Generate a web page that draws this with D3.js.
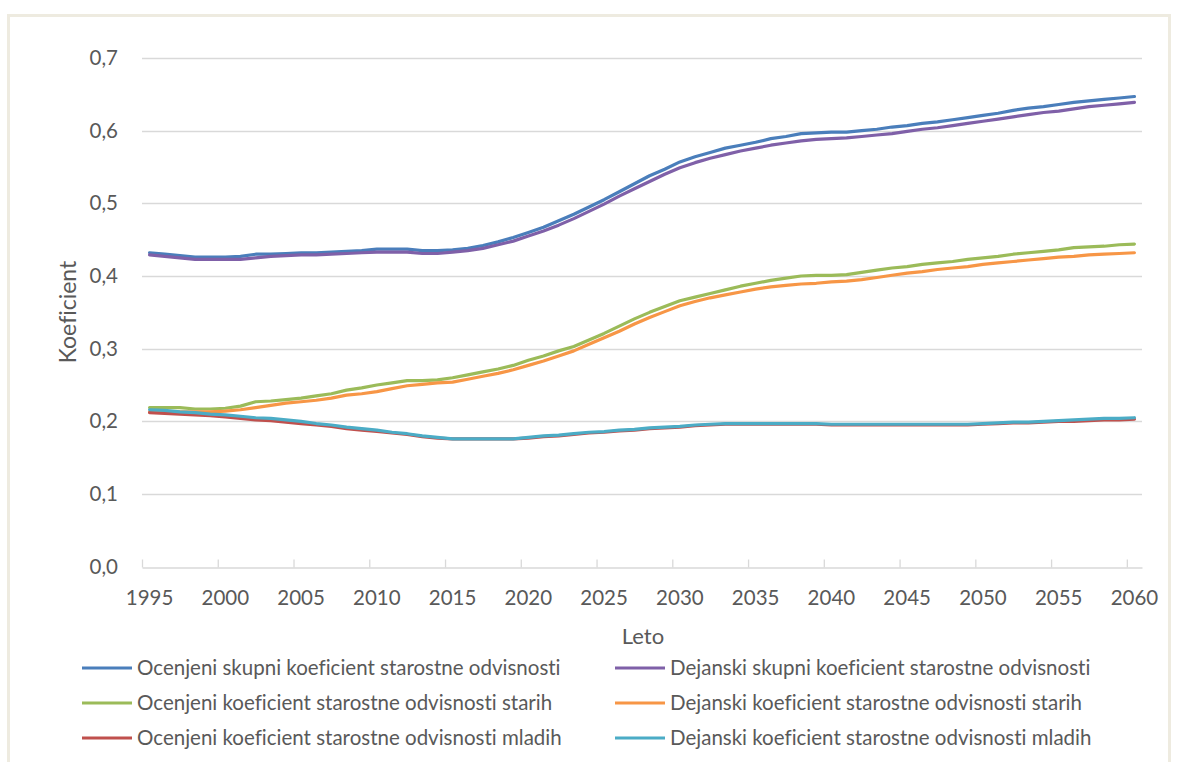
<!DOCTYPE html>
<html>
<head>
<meta charset="utf-8">
<script src="https://cdn.jsdelivr.net/npm/d3@7"></script>
<style>
  html, body { margin: 0; padding: 0; background: #fff; }
  svg { display: block; }
  text { font-family: Lato, "Open Sans", sans-serif; fill: #595959; font-variant-ligatures: none; }
</style>
</head>
<body>
<svg id="chart" width="1177" height="762"></svg>
<script>
// Years on the category axis
const years = d3.range(1995, 2061);

// Ocenjeni skupni koeficient starostne odvisnosti
const ocenjeniSkupni = [
  0.432, 0.430, 0.428, 0.426, 0.426, 0.426, 0.427, 0.430, 0.430, 0.431,
  0.432, 0.432, 0.433, 0.434, 0.435, 0.437, 0.437, 0.437, 0.435, 0.435,
  0.436, 0.438, 0.442, 0.447, 0.453, 0.460, 0.467, 0.476, 0.485, 0.495,
  0.505, 0.516, 0.527, 0.538, 0.547, 0.557, 0.564, 0.570, 0.576, 0.580,
  0.584, 0.589, 0.592, 0.596, 0.597, 0.598, 0.598, 0.600, 0.602, 0.605,
  0.607, 0.610, 0.612, 0.615, 0.618, 0.621, 0.624, 0.628, 0.631, 0.633,
  0.636, 0.639, 0.641, 0.643, 0.645, 0.647
];

// Dejanski skupni koeficient starostne odvisnosti
const dejanskiSkupni = [
  0.429, 0.427, 0.425, 0.423, 0.423, 0.423, 0.423, 0.425, 0.427, 0.428,
  0.429, 0.429, 0.430, 0.431, 0.432, 0.433, 0.433, 0.433, 0.431, 0.431,
  0.433, 0.435, 0.438, 0.443, 0.448, 0.455, 0.462, 0.470, 0.479, 0.489,
  0.499, 0.510, 0.520, 0.530, 0.540, 0.549, 0.556, 0.562, 0.567, 0.572,
  0.576, 0.580, 0.583, 0.586, 0.588, 0.589, 0.590, 0.592, 0.594, 0.596,
  0.599, 0.602, 0.604, 0.607, 0.610, 0.613, 0.616, 0.619, 0.622, 0.625,
  0.627, 0.630, 0.633, 0.635, 0.637, 0.639
];

// Ocenjeni koeficient starostne odvisnosti starih
const ocenjeniStarih = [
  0.219, 0.219, 0.219, 0.217, 0.217, 0.218, 0.221, 0.227, 0.228, 0.230,
  0.232, 0.235, 0.238, 0.243, 0.246, 0.250, 0.253, 0.256, 0.256, 0.257,
  0.260, 0.264, 0.268, 0.272, 0.277, 0.284, 0.290, 0.297, 0.303, 0.312,
  0.321, 0.331, 0.341, 0.350, 0.358, 0.366, 0.371, 0.376, 0.381, 0.386,
  0.390, 0.394, 0.397, 0.400, 0.401, 0.401, 0.402, 0.405, 0.408, 0.411,
  0.413, 0.416, 0.418, 0.420, 0.423, 0.425, 0.427, 0.430, 0.432, 0.434,
  0.436, 0.439, 0.440, 0.441, 0.443, 0.444
];

// Dejanski koeficient starostne odvisnosti starih
const dejanskiStarih = [
  0.213, 0.213, 0.213, 0.213, 0.213, 0.214, 0.216, 0.219, 0.222, 0.225,
  0.227, 0.229, 0.232, 0.236, 0.238, 0.241, 0.245, 0.249, 0.251, 0.253,
  0.254, 0.258, 0.262, 0.266, 0.271, 0.277, 0.283, 0.290, 0.297, 0.306,
  0.315, 0.324, 0.334, 0.343, 0.351, 0.359, 0.365, 0.370, 0.374, 0.378,
  0.382, 0.385, 0.387, 0.389, 0.390, 0.392, 0.393, 0.395, 0.398, 0.401,
  0.404, 0.406, 0.409, 0.411, 0.413, 0.416, 0.418, 0.420, 0.422, 0.424,
  0.426, 0.427, 0.429, 0.430, 0.431, 0.432
];

// Ocenjeni koeficient starostne odvisnosti mladih
const ocenjeniMladih = [
  0.212, 0.211, 0.210, 0.209, 0.208, 0.206, 0.204, 0.202, 0.201, 0.199,
  0.197, 0.195, 0.193, 0.190, 0.188, 0.186, 0.184, 0.182, 0.179, 0.177,
  0.176, 0.176, 0.176, 0.176, 0.176, 0.177, 0.179, 0.180, 0.182, 0.184,
  0.185, 0.187, 0.188, 0.190, 0.191, 0.192, 0.194, 0.195, 0.196, 0.196,
  0.196, 0.196, 0.196, 0.196, 0.196, 0.195, 0.195, 0.195, 0.195, 0.195,
  0.195, 0.195, 0.195, 0.195, 0.195, 0.196, 0.197, 0.198, 0.198, 0.199,
  0.200, 0.200, 0.201, 0.202, 0.202, 0.203
];

// Dejanski koeficient starostne odvisnosti mladih
const dejanskiMladih = [
  0.216, 0.215, 0.213, 0.212, 0.210, 0.209, 0.207, 0.205, 0.204, 0.202,
  0.200, 0.197, 0.195, 0.192, 0.190, 0.188, 0.185, 0.183, 0.180, 0.178,
  0.176, 0.176, 0.176, 0.176, 0.176, 0.178, 0.180, 0.181, 0.183, 0.185,
  0.186, 0.188, 0.189, 0.191, 0.192, 0.193, 0.195, 0.196, 0.197, 0.197,
  0.197, 0.197, 0.197, 0.197, 0.197, 0.196, 0.196, 0.196, 0.196, 0.196,
  0.196, 0.196, 0.196, 0.196, 0.196, 0.197, 0.198, 0.199, 0.199, 0.200,
  0.201, 0.202, 0.203, 0.204, 0.204, 0.205
];

const seriesNames = [
  "Ocenjeni skupni koeficient starostne odvisnosti",
  "Dejanski skupni koeficient starostne odvisnosti",
  "Ocenjeni koeficient starostne odvisnosti starih",
  "Dejanski koeficient starostne odvisnosti starih",
  "Ocenjeni koeficient starostne odvisnosti mladih",
  "Dejanski koeficient starostne odvisnosti mladih"
];
const seriesColors = ["#4a7ebb", "#7f60a8", "#9bbb59", "#f79646", "#c0504d", "#4bacc6"];
const seriesValues = [ocenjeniSkupni, dejanskiSkupni, ocenjeniStarih, dejanskiStarih, ocenjeniMladih, dejanskiMladih];

const yTicks = [0, 0.1, 0.2, 0.3, 0.4, 0.5, 0.6, 0.7];
const xLabelYears = years.filter(y => (y - 1995) % 5 === 0);

const svg = d3.select("#chart");

// outer frame
svg.append("rect")
  .attr("x", 8.5).attr("y", 15.5)
  .attr("width", 1161).attr("height", 780)
  .attr("fill", "none").attr("stroke", "#eeebe0").attr("stroke-width", 3);

const plotLeft = 142, plotRight = 1142, plotTop = 58, plotBottom = 566.7;

const x = d3.scaleBand().domain(years).range([plotLeft, plotRight]).padding(0);
const xEdge = d3.scaleLinear().domain([1995, 2061]).range([plotLeft, plotRight]);
const y = d3.scaleLinear().domain([0, 0.7]).range([plotBottom, plotTop]);

const locale = d3.formatLocale({ decimal: ",", thousands: ".", grouping: [3], currency: ["", " €"] });
const fmt = locale.format(".1f");

// horizontal gridlines
svg.append("g")
  .selectAll("line")
  .data(yTicks.filter(t => t > 0))
  .join("line")
  .attr("x1", plotLeft).attr("x2", plotRight)
  .attr("y1", d => Math.round(y(d)) + 0.5).attr("y2", d => Math.round(y(d)) + 0.5)
  .attr("stroke", "#d9d9d9").attr("stroke-width", 1.3);

// y axis labels
const yAxis = svg.append("g")
  .attr("transform", `translate(${plotLeft},0)`)
  .call(d3.axisLeft(y).tickValues(yTicks).tickFormat(fmt).tickSize(0).tickPadding(24));
yAxis.select(".domain").remove();
yAxis.selectAll("text").style("font-size", "20.5px").attr("fill", "#595959").style("font-family", "Lato, sans-serif");

// x axis line and tick marks
const xTickAxis = svg.append("g")
  .attr("transform", `translate(0,${Math.round(plotBottom) + 0.5})`)
  .call(d3.axisBottom(xEdge).tickValues(xLabelYears).tickSizeInner(-8).tickSizeOuter(0).tickFormat(""));
xTickAxis.select(".domain").attr("stroke", "#d9d9d9").attr("stroke-width", 1.6);
xTickAxis.selectAll(".tick line").attr("stroke", "#d9d9d9").attr("stroke-width", 1.3);

// x axis labels at category centres
const xLabelAxis = svg.append("g")
  .attr("transform", `translate(0,${plotBottom})`)
  .call(d3.axisBottom(x).tickValues(xLabelYears).tickSize(0).tickPadding(24));
xLabelAxis.select(".domain").remove();
xLabelAxis.selectAll("text").style("font-size", "20.5px").attr("fill", "#595959").style("font-family", "Lato, sans-serif");

// axis titles
svg.append("text")
  .attr("x", 643).attr("y", 644)
  .attr("text-anchor", "middle")
  .style("font-size", "22px")
  .text("Leto");

svg.append("text")
  .attr("transform", "translate(76,312) rotate(-90)")
  .attr("text-anchor", "middle")
  .style("font-size", "23px")
  .text("Koeficient");

// series lines
const line = d3.line()
  .x((d, i) => x(years[i]) + x.bandwidth() / 2)
  .y(d => y(d));

svg.append("g")
  .selectAll("path")
  .data(seriesValues)
  .join("path")
  .attr("d", d => line(d))
  .attr("fill", "none")
  .attr("stroke", (d, i) => seriesColors[i])
  .attr("stroke-width", 3.2)
  .attr("stroke-linejoin", "round")
  .attr("stroke-linecap", "round");

// legend: two columns, three rows
const legendCols = [82, 615];
const legendRows = [668, 703, 738];
const legend = svg.append("g")
  .selectAll("g")
  .data(seriesNames)
  .join("g")
  .attr("transform", (d, i) => `translate(${legendCols[i % 2]},${legendRows[Math.floor(i / 2)]})`);

legend.append("line")
  .attr("x1", 0).attr("x2", 50)
  .attr("y1", 0).attr("y2", 0)
  .attr("stroke", (d, i) => seriesColors[i])
  .attr("stroke-width", 3.2);

legend.append("text")
  .attr("x", 55).attr("y", 0)
  .attr("dy", "0.35em")
  .style("font-size", "20.5px")
  .text(d => d);
</script>
</body>
</html>
